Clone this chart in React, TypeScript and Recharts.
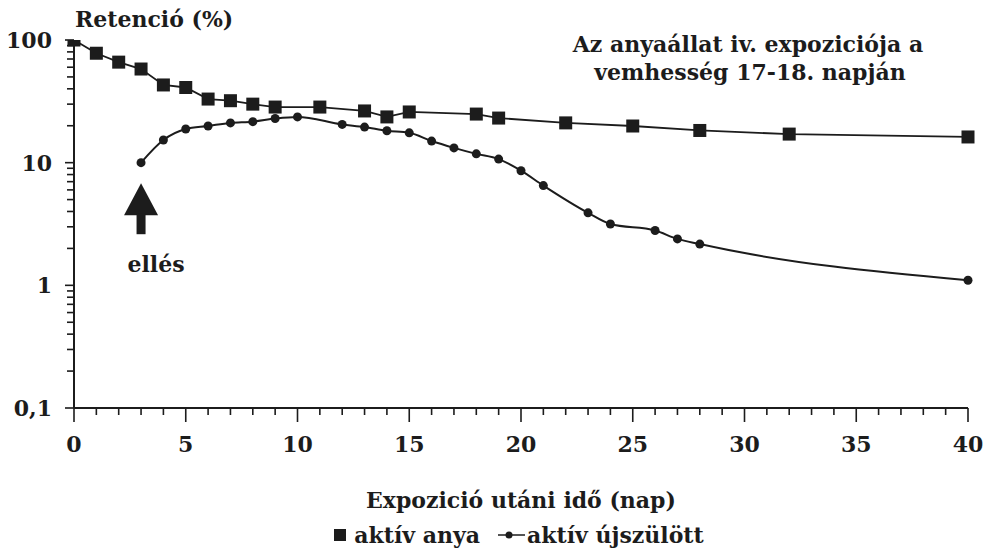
import { LineChart, Line, XAxis, YAxis, Legend, ReferenceDot } from "recharts";

const motherDays = [0, 1, 2, 3, 4, 5, 6, 7, 8, 9, 11, 13, 14, 15, 18, 19, 22, 25, 28, 32, 40];
const motherRetention = [100, 78, 66, 58, 43, 41, 33, 32, 30, 28.4, 28.4, 26.4, 23.6, 25.9, 24.9, 23.1, 21.1, 19.9, 18.3, 17.1, 16.2];

const newbornDays = [3, 4, 5, 6, 7, 8, 9, 10, 12, 13, 14, 15, 16, 17, 18, 19, 20, 21, 23, 24, 26, 27, 28, 40];
const newbornRetention = [10, 15.3, 18.8, 19.9, 21.1, 21.6, 22.9, 23.6, 20.5, 19.5, 18.2, 17.5, 15.0, 13.2, 11.8, 10.7, 8.6, 6.5, 3.9, 3.16, 2.8, 2.39, 2.17, 1.1];

const xTicks = [0, 1, 2, 3, 4, 5, 6, 7, 8, 9, 10, 11, 12, 13, 14, 15, 16, 17, 18, 19, 20, 21, 22, 23, 24, 25, 26, 27, 28, 29, 30, 31, 32, 33, 34, 35, 36, 37, 38, 39, 40];
const xLabelTicks = [0, 5, 10, 15, 20, 25, 30, 35, 40];
const yTicks = [0.1, 0.2, 0.3, 0.4, 0.5, 0.6, 0.7, 0.8, 0.9, 1, 2, 3, 4, 5, 6, 7, 8, 9, 10, 20, 30, 40, 50, 60, 70, 80, 90, 100];
const yLabels: Record<string, string> = { "0.1": "0,1", "1": "1", "10": "10", "100": "100" };

const birthDay = 3;
const birthArrowTip = 6.8;

const INK = "#1c1c1c";
const FONT = '"DejaVu Serif", serif';
const FS = 22;

const motherData = motherDays.map((d, i) => ({ day: d, value: motherRetention[i] }));
const newbornData = newbornDays.map((d, i) => ({ day: d, value: newbornRetention[i] }));

function XTick({ x, y, payload }: any) {
  const major = xLabelTicks.includes(payload.value);
  return (
    <g>
      <line x1={x} y1={y} x2={x} y2={y + (major ? 14 : 7)} stroke={INK} strokeWidth={1.6} />
      {major && (
        <text x={x} y={y + 44} textAnchor="middle" fontFamily={FONT} fontWeight="bold" fontSize={FS} fill={INK}>
          {payload.value}
        </text>
      )}
    </g>
  );
}

function YTick({ x, y, payload }: any) {
  const label = yLabels[String(payload.value)];
  return (
    <g>
      <rect x={x - (label ? 9 : 7)} y={y - 0.8} width={label ? 9 : 7} height={1.6} fill={INK} />
      {label && (
        <text x={x - 22} y={y} dy="0.36em" textAnchor="end" fontFamily={FONT} fontWeight="bold" fontSize={FS} fill={INK}>
          {label}
        </text>
      )}
    </g>
  );
}

function SquareDot({ cx, cy }: any) {
  return <rect x={cx - 6.5} y={cy - 6.5} width={13} height={13} fill={INK} />;
}

function CircleDot({ cx, cy }: any) {
  return <circle cx={cx} cy={cy} r={4.5} fill={INK} />;
}

function BirthArrow({ cx, cy }: any) {
  return (
    <g>
      <polygon points={`${cx},${cy} ${cx - 17},${cy + 32} ${cx + 17},${cy + 32}`} fill={INK} />
      <rect x={cx - 4.5} y={cy + 30} width={9} height={21} fill={INK} />
      <text x={cx + 15} y={cy + 89} textAnchor="middle" fontFamily={FONT} fontWeight="bold" fontSize={FS} fill={INK}>
        ellés
      </text>
    </g>
  );
}

function LegendContent() {
  const style = { fontFamily: FONT, fontWeight: "bold" as const, fontSize: FS, color: INK, lineHeight: "30px" };
  return (
    <div style={{ display: "flex", justifyContent: "center", alignItems: "center", ...style, paddingLeft: 60 }}>
      <svg width={12} height={14} style={{ marginRight: 8 }}><rect x={0} y={1} width={12} height={12} fill={INK} /></svg>
      <span style={{ marginRight: 18 }}>aktív anya</span>
      <svg width={27} height={14} style={{ marginRight: 2 }}>
        <line x1={0} y1={7} x2={27} y2={7} stroke={INK} strokeWidth={1.5} />
        <circle cx={11} cy={7} r={3.5} fill={INK} />
      </svg>
      <span>aktív újszülött</span>
    </div>
  );
}

export default function App() {
  return (
    <div style={{ position: "absolute", left: 0, top: 0, width: 984, height: 550, background: "#fff" }}>
      <LineChart width={984} height={550} margin={{ top: 40, right: 16, left: 10, bottom: 12 }}>
        <XAxis
          type="number"
          dataKey="day"
          domain={[0, 40]}
          ticks={xTicks}
          interval={0}
          tick={<XTick />}
          tickLine={false}
          tickSize={0}
          tickMargin={0}
          axisLine={{ stroke: INK, strokeWidth: 2 }}
          height={100}
          allowDuplicatedCategory={false}
          label={{
            value: "Expozició utáni idő (nap)",
            position: "insideBottom",
            offset: 0,
            style: { fontFamily: FONT, fontWeight: "bold", fontSize: FS, fill: INK },
          }}
        />
        <YAxis
          type="number"
          dataKey="value"
          scale="log"
          domain={[0.1, 100]}
          allowDataOverflow
          ticks={yTicks}
          interval={0}
          width={64}
          tick={<YTick />}
          tickLine={false}
          tickSize={0}
          tickMargin={0}
          axisLine={{ stroke: INK, strokeWidth: 2 }}
        />
        <Legend verticalAlign="bottom" height={30} wrapperStyle={{ top: 520, bottom: "auto" }} content={<LegendContent />} />
        <Line
          name="aktív anya"
          data={motherData}
          dataKey="value"
          type="linear"
          stroke={INK}
          strokeWidth={1.8}
          dot={<SquareDot />}
          activeDot={false}
          isAnimationActive={false}
        />
        <Line
          name="aktív újszülött"
          data={newbornData}
          dataKey="value"
          type="monotone"
          stroke={INK}
          strokeWidth={2}
          dot={<CircleDot />}
          activeDot={false}
          isAnimationActive={false}
        />
        <ReferenceDot x={birthDay} y={birthArrowTip} shape={<BirthArrow />} />
        <text x={75} y={27} fontFamily={FONT} fontWeight="bold" fontSize={FS} fill={INK}>
          Retenció (%)
        </text>
        <text x={748} y={52} textAnchor="middle" fontFamily={FONT} fontWeight="bold" fontSize={FS} fill={INK}>
          Az anyaállat iv. expoziciója a
        </text>
        <text x={750} y={80} textAnchor="middle" fontFamily={FONT} fontWeight="bold" fontSize={FS} fill={INK}>
          vemhesség 17-18. napján
        </text>
      </LineChart>
    </div>
  );
}
